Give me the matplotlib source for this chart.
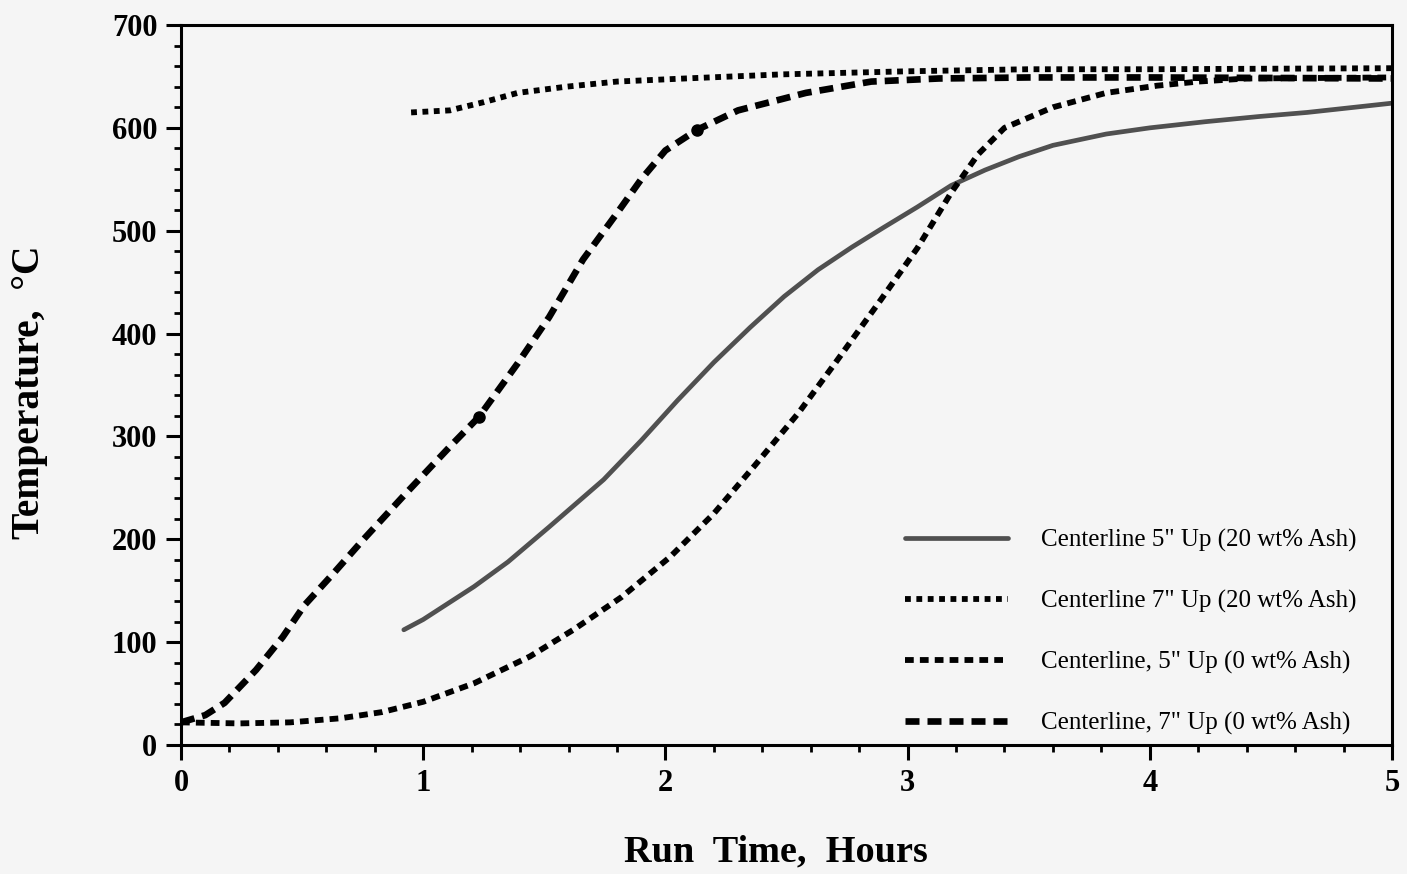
import matplotlib
matplotlib.use("Agg")
import matplotlib.pyplot as plt
from matplotlib.ticker import MultipleLocator

# ---------------- data ----------------
s1_x = [0.92, 1.0, 1.21, 1.35, 1.52, 1.745, 1.9, 2.05, 2.2, 2.35, 2.49, 2.63, 2.77,
        2.9, 3.04, 3.18, 3.32, 3.46, 3.6, 3.82, 4.0, 4.23, 4.45, 4.65, 5.0]
s1_y = [112, 122, 154, 178, 212, 258, 296, 335, 372, 406, 436, 462, 484,
        503, 523, 544, 559, 572, 583, 594, 600, 606, 611, 615, 624]

s2_x = [0.95, 1.11, 1.25, 1.39, 1.59, 1.8, 2.08, 2.48, 3.0, 3.5, 4.0, 5.0]
s2_y = [615, 617, 625, 634, 640, 645, 648, 652, 655, 657, 657, 658]

s3_x = [0, 0.24, 0.45, 0.66, 0.83, 1.0, 1.21, 1.44, 1.62, 1.82, 2.02, 2.2, 2.37,
        2.55, 2.7, 2.89, 3.04, 3.18, 3.29, 3.4, 3.6, 3.82, 4.03, 4.2, 4.4, 5.0]
s3_y = [22, 21, 22, 26, 32, 42, 60, 86, 112, 144, 183, 225, 272,
        323, 371, 433, 483, 537, 574, 600, 620, 634, 641, 645, 648, 649]

s4_x = [0, 0.1, 0.18, 0.31, 0.42, 0.51, 0.63, 0.75, 0.93, 1.11, 1.23, 1.39, 1.52,
        1.66, 1.8, 1.9, 2.0, 2.13, 2.3, 2.58, 2.85, 3.13, 3.5, 4.0, 5.0]
s4_y = [22, 29, 41, 73, 105, 136, 167, 199, 245, 290, 319, 371, 416,
        472, 517, 550, 578, 598, 617, 634, 645, 648, 649, 649, 648]

s4_mark_x = [1.23, 2.13]
s4_mark_y = [319, 598]

labels = ['Centerline 5" Up (20 wt% Ash)',
          'Centerline 7" Up (20 wt% Ash)',
          'Centerline, 5" Up (0 wt% Ash)',
          'Centerline, 7" Up (0 wt% Ash)']

x_ticks = [0, 1, 2, 3, 4, 5]
y_ticks = [0, 100, 200, 300, 400, 500, 600, 700]

# ---------------- figure ----------------
W, H = 1407, 874
bg = '#f5f5f5'
serif = ['Liberation Serif', 'DejaVu Serif']
fig = plt.figure(figsize=(W / 100, H / 100), dpi=100, facecolor=bg)
ax = fig.add_axes([181 / W, 1 - 745 / H, (1392 - 181) / W, (745 - 25) / H])
ax.set_facecolor(bg)

ax.plot(s1_x, s1_y, color='#505050', lw=3.4, solid_capstyle='round',
        solid_joinstyle='round', label=labels[0])
ax.plot(s2_x, s2_y, color='black', lw=4.2, linestyle=(0, (1.0, 0.95)),
        label=labels[1])
ax.plot(s3_x, s3_y, color='black', lw=4.2, linestyle=(0, (1.5, 1.05)),
        label=labels[2])
ax.plot(s4_x, s4_y, color='black', lw=4.8, linestyle=(0, (2.1, 1.2)),
        label=labels[3])
ax.plot(s4_mark_x, s4_mark_y, 'o', color='black', ms=8, zorder=5)

ax.set_xlim(0, 5)
ax.set_ylim(0, 700)
ax.set_xticks(x_ticks)
ax.set_yticks(y_ticks)
ax.xaxis.set_minor_locator(MultipleLocator(0.2))
ax.yaxis.set_minor_locator(MultipleLocator(20))
ax.tick_params(which='major', direction='out', length=11, width=2.2, pad=6,
               labelsize=22, colors='black')
ax.tick_params(which='minor', direction='out', length=5, width=2.0)
for lab in ax.get_xticklabels() + ax.get_yticklabels():
    lab.set_fontfamily(serif)
    lab.set_fontweight('bold')
for sp in ax.spines.values():
    sp.set_linewidth(2.2)
    sp.set_color('black')

fig.text(776 / W, 1 - 852 / H, 'Run  Time,  Hours', ha='center', va='center',
         fontsize=27.5, fontweight='bold', family=serif)
fig.text(30 / W, 1 - 392 / H, 'Temperature,  \u00b0C', ha='center', va='center',
         rotation=90, fontsize=28.5, fontweight='bold', family=serif)

leg = ax.legend(loc='upper left', bbox_to_anchor=(905 / W, 1 - 529 / H),
                bbox_transform=fig.transFigure, frameon=False,
                prop={'family': serif, 'size': 18}, borderpad=0,
                borderaxespad=0, handlelength=4.1, handletextpad=1.35,
                labelspacing=1.52)

fig.savefig('out.png', dpi=100, facecolor=bg)
